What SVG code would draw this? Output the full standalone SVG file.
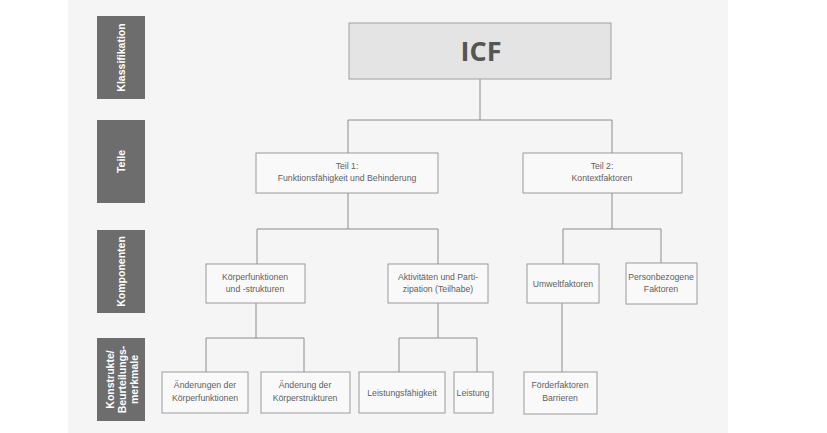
<svg xmlns="http://www.w3.org/2000/svg" width="827" height="433" viewBox="0 0 827 433">
<style>
.lab{fill:#6d6d6d}
.labt{fill:#ffffff;font-family:"Liberation Sans",Arial,sans-serif;font-weight:bold;font-size:10.5px;text-anchor:middle}
.box{fill:#f9f9f9;stroke:#9a9a9a;stroke-width:1}
.t{fill:#5f5f5f;font-family:"Liberation Sans",Arial,sans-serif;font-size:8.7px;text-anchor:middle}
.con{fill:none;stroke:#8c8c8c;stroke-width:1}
</style>
<rect x="0" y="0" width="827" height="433" fill="#ffffff"/>
<rect x="68" y="0" width="660" height="433" fill="#f5f5f5"/>
<g id="side-labels">
<g id="lab-klassifikation"><rect class="lab" x="97" y="16" width="48" height="83"/><text class="labt" transform="translate(125,57.5) rotate(-90)">Klassifikation</text></g>
<g id="lab-teile"><rect class="lab" x="97" y="120" width="48" height="83"/><text class="labt" transform="translate(125,161.5) rotate(-90)">Teile</text></g>
<g id="lab-komponenten"><rect class="lab" x="97" y="230" width="48" height="83"/><text class="labt" transform="translate(125,271.5) rotate(-90)">Komponenten</text></g>
<g id="lab-konstrukte"><rect class="lab" x="97" y="338" width="48" height="83"/><text class="labt" transform="translate(114,379.5) rotate(-90)">Konstrukte/</text><text class="labt" transform="translate(126,379.5) rotate(-90)">Beurteilungs-</text><text class="labt" transform="translate(138,379.5) rotate(-90)">merkmale</text></g>
</g>
<g id="connectors">
<path class="con" d="M480,79 V120 M348,120 H612 M348,120 V153 M612,120 V153"/>
<path class="con" d="M348,193 V229 M257,229 H438 M257,229 V264 M438,229 V264"/>
<path class="con" d="M612,193 V229 M563,229 H661 M563,229 V264 M661,229 V264"/>
<path class="con" d="M256,303 V338 M206,338 H304 M206,338 V372 M304,338 V372"/>
<path class="con" d="M438,303 V338 M399,338 H477 M399,338 V372 M477,338 V372"/>
<path class="con" d="M562,303 V372"/>
</g>
<g id="icf"><rect x="349" y="23" width="262" height="56" fill="#e4e4e4" stroke="#a0a0a0"/><text x="481" y="61" fill="#555" font-family="'Open Sans','Liberation Sans',Arial,sans-serif" font-weight="bold" font-size="27" text-anchor="middle">ICF</text></g>
<g id="teil1"><rect class="box" x="256" y="153" width="182" height="40"/><text class="t" x="347" y="169">Teil 1:</text><text class="t" x="347" y="181">Funktionsfähigkeit und Behinderung</text></g>
<g id="teil2"><rect class="box" x="523" y="153" width="159" height="40"/><text class="t" x="602" y="169">Teil 2:</text><text class="t" x="602" y="181">Kontextfaktoren</text></g>
<g id="koerper"><rect class="box" x="206" y="264" width="99" height="39"/><text class="t" x="255" y="280">Körperfunktionen</text><text class="t" x="255" y="292">und -strukturen</text></g>
<g id="aktiv"><rect class="box" x="388" y="264" width="100" height="39"/><text class="t" x="438" y="280">Aktivitäten und Parti-</text><text class="t" x="438" y="292">zipation (Teilhabe)</text></g>
<g id="umwelt"><rect class="box" x="527" y="264" width="72" height="39"/><text class="t" x="563" y="287">Umweltfaktoren</text></g>
<g id="person"><rect class="box" x="626" y="263" width="71" height="41"/><text class="t" x="661" y="280">Personbezogene</text><text class="t" x="661" y="292">Faktoren</text></g>
<g id="aend-kf"><rect class="box" x="162" y="372" width="86" height="41"/><text class="t" x="205" y="388">Änderungen der</text><text class="t" x="205" y="401">Körperfunktionen</text></g>
<g id="aend-ks"><rect class="box" x="261" y="372" width="89" height="41"/><text class="t" x="305" y="388">Änderung der</text><text class="t" x="305" y="401">Körperstrukturen</text></g>
<g id="leistfae"><rect class="box" x="359" y="372" width="86" height="41"/><text class="t" x="402" y="396">Leistungsfähigkeit</text></g>
<g id="leist"><rect class="box" x="454" y="372" width="39" height="41"/><text class="t" x="473" y="396">Leistung</text></g>
<g id="foerder"><rect class="box" x="524" y="372" width="73" height="42"/><text class="t" x="560" y="388">Förderfaktoren</text><text class="t" x="560" y="401">Barrieren</text></g>
</svg>
